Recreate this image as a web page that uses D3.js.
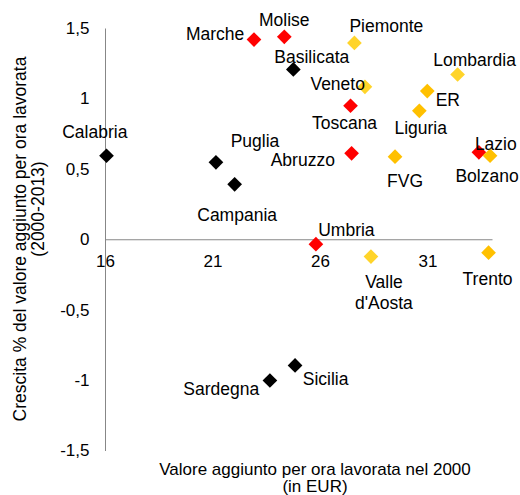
<!DOCTYPE html>
<html>
<head>
<meta charset="utf-8">
<script src="https://cdn.jsdelivr.net/npm/d3@7"></script>
<style>
  body { margin: 0; background: #fff; }
  svg text { font-family: "Liberation Sans", Arial, sans-serif; fill: #000; }
</style>
</head>
<body>
<svg id="chart" width="520" height="495"></svg>
<script>
// regions, value added per hour worked in 2000 (EUR) and growth % 2000-2013
const regions = ["Calabria", "Puglia", "Campania", "Basilicata", "Sicilia", "Sardegna",
  "Marche", "Molise", "Toscana", "Abruzzo", "Lazio", "Umbria",
  "Piemonte", "Lombardia", "Veneto", "Valle d'Aosta",
  "ER", "Liguria", "FVG", "Bolzano", "Trento"];
const valueAdded2000 = [16.07, 21.16, 22.03, 24.76, 24.84, 23.67,
  22.93, 24.34, 27.42, 27.47, 33.39, 25.81,
  27.6, 32.4, 28.09, 28.37,
  30.99, 30.62, 29.49, 33.91, 33.84];
const growth = [0.593, 0.546, 0.39, 1.206, -0.896, -1.003,
  1.418, 1.437, 0.948, 0.61, 0.617, -0.035,
  1.394, 1.17, 1.082, -0.123,
  1.052, 0.912, 0.586, 0.593, -0.095];
const groups = ["A", "A", "A", "A", "A", "A",
  "B", "B", "B", "B", "B", "B",
  "C", "C", "C", "C",
  "D", "D", "D", "D", "D"];
const xTicks = [16, 21, 26, 31];
const yTicks = [-1.5, -1, -0.5, 0, 0.5, 1, 1.5];
const xTitle = ["Valore aggiunto per ora lavorata nel 2000", "(in EUR)"];
const yTitle = ["Crescita % del valore aggiunto per ora lavorata", "(2000-2013)"];

// where each data label sits relative to its marker
const labelLayout = {
  "Marche": ["end", -9.7, 0],
  "Molise": ["middle", 0, -10.7],
  "Piemonte": ["start", -5, -11],
  "Basilicata": ["start", -19, -6],
  "Lombardia": ["start", -24.4, -8.3],
  "Veneto": ["end", 0, 3.3],
  "ER": ["start", 8.4, 15],
  "Toscana": ["middle", -6, 23.6],
  "Liguria": ["middle", 1.4, 23.3],
  "Calabria": ["middle", -11.7, -17.4],
  "Puglia": ["start", 14.7, -15.6],
  "Campania": ["middle", 2.5, 36.7],
  "Abruzzo": ["end", -16.7, 12.4],
  "FVG": ["middle", 10, 30.6],
  "Lazio": ["start", -4, -2.3],
  "Bolzano": ["middle", -3, 26],
  "Umbria": ["start", 2.3, -8],
  "Valle d'Aosta": ["middle", 13, 31.6],
  "Trento": ["middle", -1, 32.3],
  "Sicilia": ["start", 7.7, 19.3],
  "Sardegna": ["end", -10.7, 14.3]
};
const wrapped = { "Valle d'Aosta": ["Valle", "d'Aosta"] };

const svg = d3.select("#chart");

const x = d3.scaleLinear().domain([16, 34]).range([105, 492]);
const y = d3.scaleLinear().domain([-1.5, 1.5]).range([450.5, 28]);
const color = d3.scaleOrdinal()
  .domain(["A", "B", "C", "D"])
  .range(["#000000", "#ff0000", "#ffd42a", "#ffc000"]);

const fmt = d => String(d).replace(".", ",");

// axes
let yAxis = svg.append("g")
  .attr("transform", `translate(${x(16)},0)`)
  .call(d3.axisLeft(y).tickValues(yTicks).tickSize(0).tickPadding(15.5).tickFormat(fmt));
let xAxis = svg.append("g")
  .attr("transform", `translate(0,${y(0)})`)
  .call(d3.axisBottom(x).tickValues(xTicks).tickSize(0).tickPadding(15.3).tickFormat(fmt));

[xAxis, yAxis].forEach(a => {
  a.select(".domain").attr("stroke", "#878787").attr("stroke-width", 1);
  a.selectAll("text")
    .style("font-family", '"Liberation Sans", Arial, sans-serif')
    .style("font-size", "17px")
    .attr("fill", "#000");
});

// markers
const points = regions.map((r, i) => ({
  name: r, vx: valueAdded2000[i], vy: growth[i], group: groups[i]
}));

const diamond = d3.symbol().type(d3.symbolSquare).size(108);

svg.append("g").selectAll("path")
  .data(points)
  .join("path")
  .attr("d", diamond)
  .attr("transform", d => `translate(${x(d.vx)},${y(d.vy)}) rotate(45)`)
  .attr("fill", d => color(d.group));

// data labels
let labels = svg.append("g").selectAll("text")
  .data(points)
  .join("text")
  .style("font-size", "17.5px")
  .attr("text-anchor", d => labelLayout[d.name][0])
  .attr("x", d => x(d.vx) + labelLayout[d.name][1])
  .attr("y", d => y(d.vy) + labelLayout[d.name][2]);

labels.each(function (d) {
  const lines = wrapped[d.name] || [d.name];
  const t = d3.select(this);
  lines.forEach((line, i) => {
    t.append("tspan")
      .attr("x", x(d.vx) + labelLayout[d.name][1])
      .attr("dy", i === 0 ? 0 : 20.7)
      .text(line);
  });
});

// axis titles
svg.append("g").selectAll("text")
  .data(xTitle)
  .join("text")
  .attr("text-anchor", "middle")
  .style("font-size", "17px")
  .attr("x", 315)
  .attr("y", (d, i) => 475 + i * 16.5)
  .text(d => d);

svg.append("g").selectAll("text")
  .data(yTitle)
  .join("text")
  .attr("text-anchor", "middle")
  .style("font-size", "17.5px")
  .attr("transform", (d, i) => i === 0 ? "translate(26,239) rotate(-90)" : "translate(44,209) rotate(-90)")
  .text(d => d);
</script>
</body>
</html>
